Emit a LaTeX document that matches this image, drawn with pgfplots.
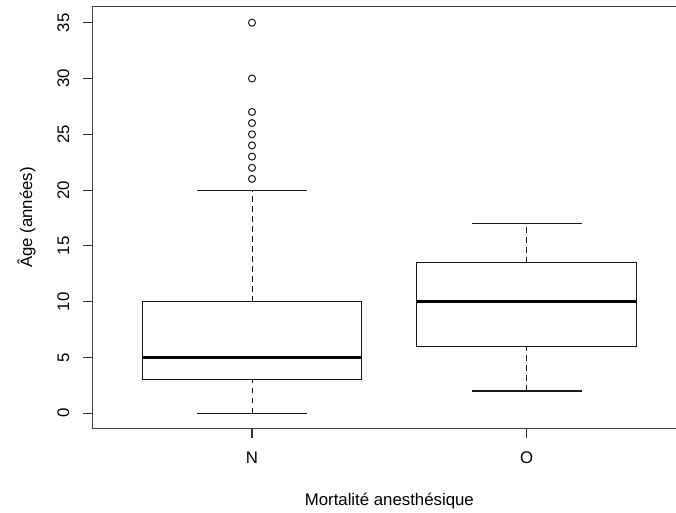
\documentclass[border=0pt]{standalone}
\usepackage{pgfplots}
\pgfplotsset{compat=1.18}
\usepgfplotslibrary{statistics}
\usepackage{fontspec}
\setmainfont{Liberation Sans}

\pgfplotsset{
  rbox/.style={
    black!90, line width=0.55pt, solid,
    mark=o, mark size=1.75pt,
    mark options={solid, line width=0.55pt, black!85},
    boxplot/draw direction=y,
    boxplot/draw/median/.code={
      \draw[line width=1.4pt, black]
        (boxplot box cs:\pgfplotsboxplotvalue{median},0) --
        (boxplot box cs:\pgfplotsboxplotvalue{median},1);
    },
    boxplot/draw/lower whisker/.code={
      \draw[dash pattern=on 2.8pt off 2.2pt, line width=0.5pt]
        (boxplot box cs:\pgfplotsboxplotvalue{lower whisker},0.5) --
        (boxplot box cs:\pgfplotsboxplotvalue{lower quartile},0.5);
      \draw[line width=0.55pt]
        (boxplot whisker cs:\pgfplotsboxplotvalue{lower whisker},0) --
        (boxplot whisker cs:\pgfplotsboxplotvalue{lower whisker},1);
    },
    boxplot/draw/upper whisker/.code={
      \draw[dash pattern=on 2.8pt off 2.2pt, line width=0.5pt]
        (boxplot box cs:\pgfplotsboxplotvalue{upper quartile},0.5) --
        (boxplot box cs:\pgfplotsboxplotvalue{upper whisker},0.5);
      \draw[line width=0.55pt]
        (boxplot whisker cs:\pgfplotsboxplotvalue{upper whisker},0) --
        (boxplot whisker cs:\pgfplotsboxplotvalue{upper whisker},1);
    },
  }
}

\begin{document}
\begin{tikzpicture}[font=\fontsize{8.4}{10}\selectfont]
\begin{axis}[
  name=ax, at={(0,0)}, anchor=south west,
  scale only axis, width=296.65pt, height=211.15pt,
  xmin=0.42, xmax=2.58, ymin=-1.38, ymax=36.46,
  xtick={1,2}, xticklabels={N,O},
  ytick={0,5,10,15,20,25,30,35},
  tick align=outside, xtick pos=left, ytick pos=left,
  major tick length=4.75pt,
  tick style={black!80, line width=0.55pt},
  axis line style={black!75, line width=0.6pt},
  /pgf/number format/assume math mode=true,
  xticklabel style={anchor=north, inner sep=0pt},
  yticklabel style={rotate=90, anchor=south, inner sep=0pt},
  xticklabel shift=6.8pt,
  yticklabel shift=6.7pt,
  xlabel={Mortalité anesthésique},
  ylabel={Âge (années)},
  every axis x label/.style={at={(axis description cs:0.5,0)}, anchor=base, yshift=-38.5pt, inner sep=0pt},
  every axis y label/.style={at={(axis description cs:-0.1023,0.5)}, rotate=90, anchor=base, inner sep=0pt},
  clip=false,
]
\addplot[rbox, boxplot prepared={draw position=1, lower whisker=0, lower quartile=3,
  median=5, upper quartile=10, upper whisker=20, box extend=0.8, whisker extend=0.4}]
  table[row sep=\\, y index=0] {v\\ 21\\ 22\\ 23\\ 24\\ 25\\ 26\\ 27\\ 30\\ 35\\};
\addplot[rbox, boxplot prepared={draw position=2, lower whisker=2, lower quartile=6,
  median=10, upper quartile=13.5, upper whisker=17, box extend=0.8, whisker extend=0.4}]
  coordinates {};
\end{axis}
\pgfresetboundingbox
\useasboundingbox (-46.35pt,-42.15pt) rectangle (291.65pt,214.35pt);
\end{tikzpicture}
\end{document}
